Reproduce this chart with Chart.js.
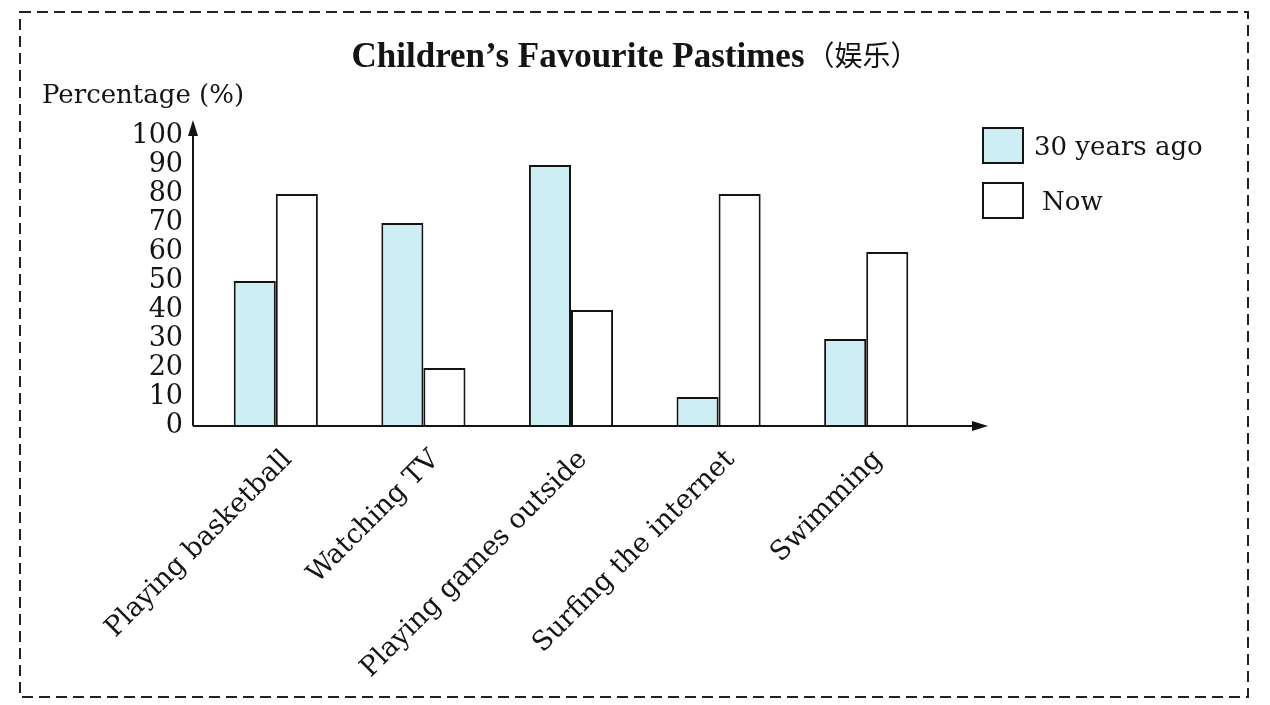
<!DOCTYPE html>
<html>
<head>
<meta charset="utf-8">
<script src="https://cdn.jsdelivr.net/npm/chart.js@4.4.0/dist/chart.umd.min.js"></script>
<style>
  html, body { margin: 0; padding: 0; background: #fff; }
  #wrap { width: 1270px; height: 705px; }
</style>
</head>
<body>
<div id="wrap"><canvas id="pastimesChart" width="1270" height="705"></canvas></div>
<script>
var pastimes = ["Playing basketball", "Watching TV", "Playing games outside", "Surfing the internet", "Swimming"];
var thirtyYearsAgo = [50, 70, 90, 10, 30];
var nowValues = [80, 20, 40, 80, 60];
var seriesNames = ["30 years ago", "Now"];
var yTickValues = [0, 10, 20, 30, 40, 50, 60, 70, 80, 90, 100];
var chartTitle = "Children\u2019s Favourite Pastimes";
var chartTitleCn = "\uff08\u5a31\u4e50\uff09";
var yAxisTitle = "Percentage (%)";

var ink = "#141414";
var serif = "'DejaVu Serif', serif";

// axes with arrows, title, legend and dashed frame
var decorations = {
  id: "decorations",
  afterDraw: function (chart) {
    var ctx = chart.ctx;
    var y0 = chart.scales.y.getPixelForValue(0);
    var axisX = 193;
    ctx.save();

    // dashed frame
    ctx.strokeStyle = "#222";
    ctx.lineWidth = 2;
    ctx.setLineDash([11, 6]);
    ctx.strokeRect(20, 12, 1228, 685);
    ctx.setLineDash([]);

    // axes
    ctx.strokeStyle = ink;
    ctx.fillStyle = ink;
    ctx.lineWidth = 2;
    ctx.beginPath();
    ctx.moveTo(axisX, y0);
    ctx.lineTo(axisX, 130);
    ctx.moveTo(axisX, y0);
    ctx.lineTo(978, y0);
    ctx.stroke();
    ctx.beginPath();
    ctx.moveTo(axisX, 120);
    ctx.lineTo(axisX - 5, 136);
    ctx.lineTo(axisX + 5, 136);
    ctx.closePath();
    ctx.fill();
    ctx.beginPath();
    ctx.moveTo(988, y0);
    ctx.lineTo(972, y0 - 5);
    ctx.lineTo(972, y0 + 5);
    ctx.closePath();
    ctx.fill();

    // title
    ctx.textBaseline = "alphabetic";
    ctx.textAlign = "left";
    ctx.font = "bold 35px 'Liberation Serif', serif";
    var w1 = ctx.measureText(chartTitle).width;
    ctx.font = "28px 'Noto Sans CJK SC', sans-serif";
    var w2 = ctx.measureText(chartTitleCn).width;
    var tx = 634 - (w1 + w2) / 2;
    ctx.font = "bold 35px 'Liberation Serif', serif";
    ctx.fillText(chartTitle, tx, 67);
    ctx.font = "28px 'Noto Sans CJK SC', sans-serif";
    ctx.fillText(chartTitleCn, tx + w1 + 2, 66);

    // y axis title
    ctx.font = "26px " + serif;
    ctx.fillText(yAxisTitle, 42, 103);

    // legend
    var boxes = [[983, 128, 1034, 155], [983, 183, 1042, 210]];
    chart.data.datasets.forEach(function (ds, i) {
      var b = boxes[i];
      ctx.fillStyle = ds.backgroundColor;
      ctx.fillRect(b[0], b[1], 40, 35);
      ctx.strokeStyle = ink;
      ctx.lineWidth = 2;
      ctx.strokeRect(b[0], b[1], 40, 35);
      ctx.fillStyle = ink;
      ctx.font = "26px " + serif;
      ctx.fillText(ds.label, b[2], b[3]);
    });
    ctx.restore();
  },
};

var ctx1 = document.getElementById("pastimesChart").getContext("2d");
var pastimesChart = new Chart(ctx1, {
  type: "bar",
  data: {
    labels: pastimes,
    datasets: [
      {
        label: seriesNames[0],
        data: thirtyYearsAgo,
        backgroundColor: "#cdeff4",
        borderColor: ink,
        borderWidth: 2,
      },
      {
        label: seriesNames[1],
        data: nowValues,
        backgroundColor: "#ffffff",
        borderColor: ink,
        borderWidth: 2,
      },
    ],
  },
  options: {
    responsive: false,
    animation: false,
    devicePixelRatio: 1,
    categoryPercentage: 0.57,
    barPercentage: 1,
    layout: {
      padding: { top: 136, right: 330, bottom: 0, left: 0 },
    },
    scales: {
      x: {
        grid: { display: false, drawTicks: false },
        border: { display: false },
        ticks: {
          color: ink,
          font: { family: serif, size: 27 },
          minRotation: 45,
          maxRotation: 45,
          autoSkip: false,
          padding: 18,
          labelOffset: 12,
        },
        afterFit: function (scale) {
          scale.height = 279;
        },
      },
      y: {
        min: 0,
        max: 100,
        grid: { display: false, drawTicks: false },
        border: { display: false },
        afterBuildTicks: function (scale) {
          scale.ticks = yTickValues.map(function (v) {
            return { value: v };
          });
        },
        ticks: {
          color: ink,
          font: { family: serif, size: 27 },
          autoSkip: false,
          padding: 19,
        },
        afterFit: function (scale) {
          scale.width = 202;
        },
      },
    },
    plugins: {
      legend: { display: false },
      tooltip: { enabled: false },
    },
  },
  plugins: [decorations],
});
</script>
</body>
</html>
